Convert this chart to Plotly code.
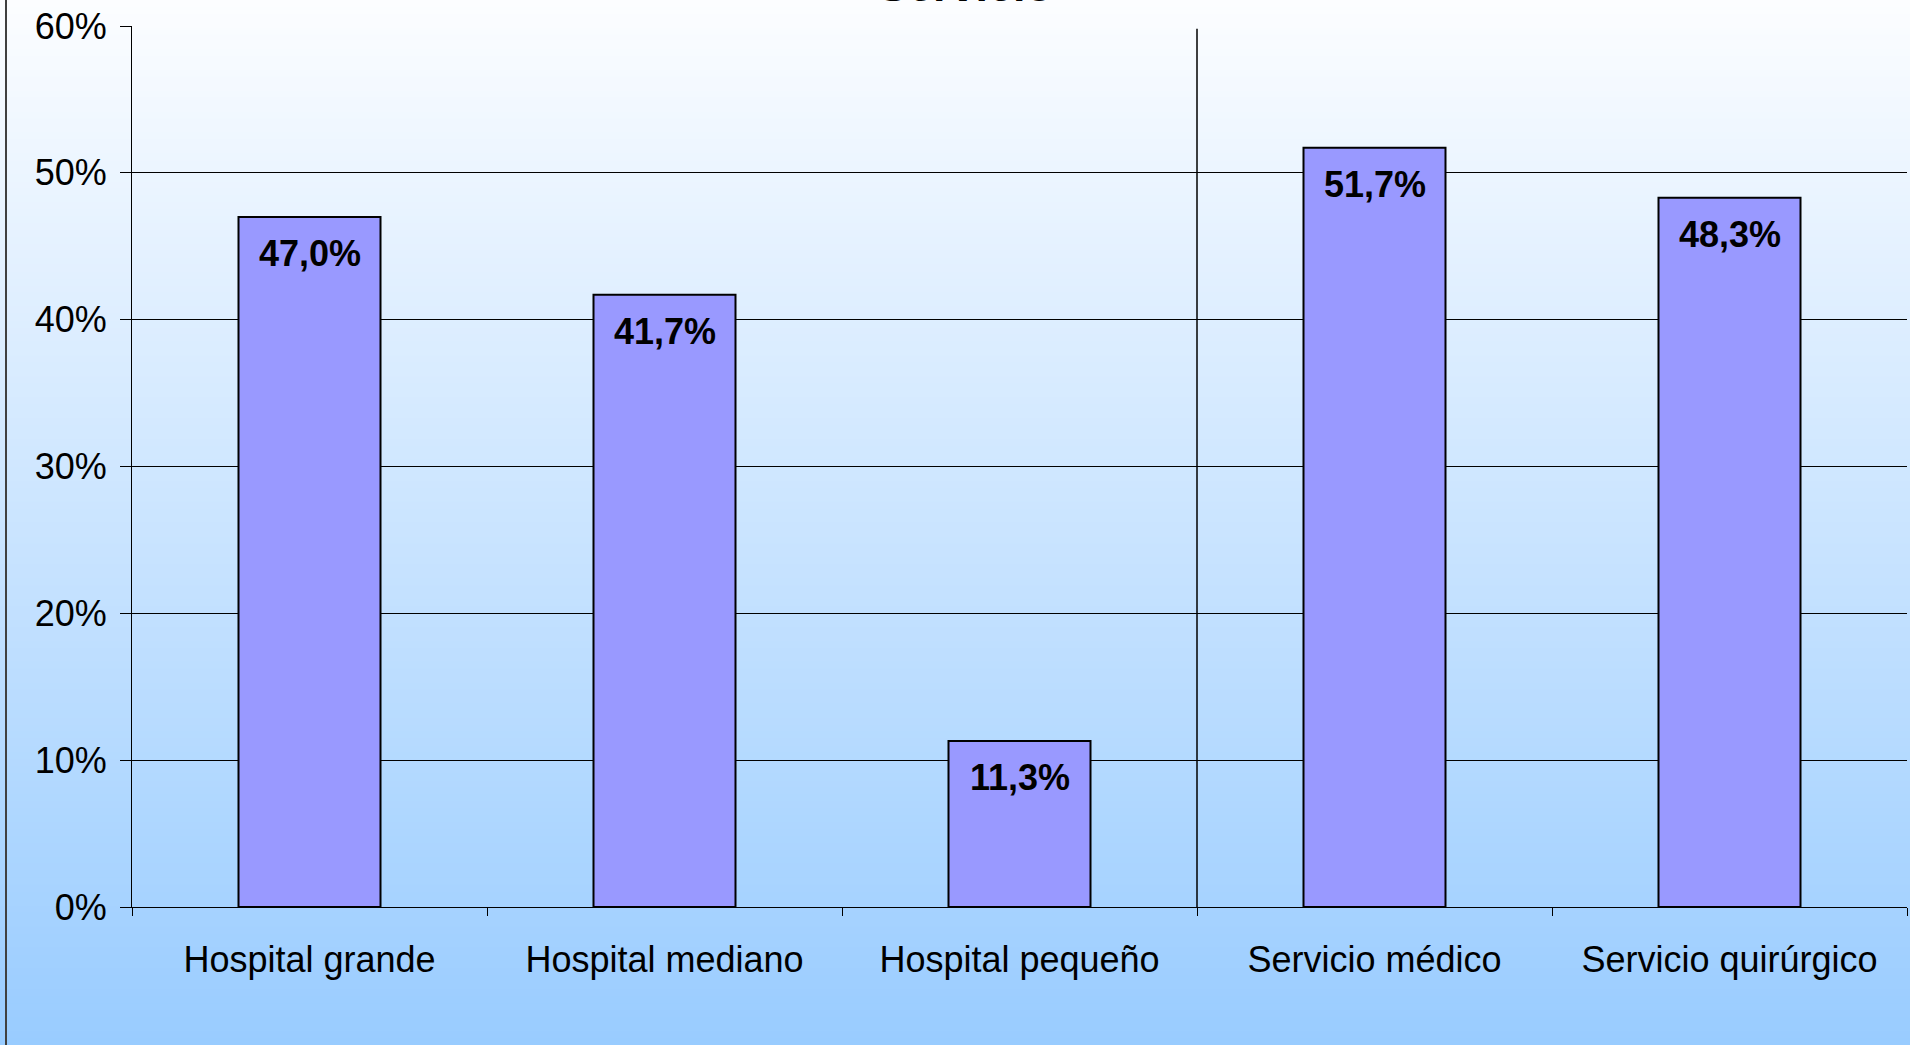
import plotly.graph_objects as go

# Data
categories = ["Hospital grande", "Hospital mediano", "Hospital pequeño",
              "Servicio médico", "Servicio quirúrgico"]
values = [47.0, 41.7, 11.3, 51.7, 48.3]
y_ticks = [0, 10, 20, 30, 40, 50, 60]
y_tick_labels = [f"{v}%" for v in y_ticks]
title_text = "Servicio"

W, H = 1910, 1045
ML, MR, MT, MB = 132, 3, 26, 138
PW, PH = W - ML - MR, H - MT - MB

FONT = "Liberation Sans, Arial, sans-serif"
BAR_COLOR = "#9999ff"


def label(v):
    return f"{v:.1f}".replace(".", ",") + "%"


fig = go.Figure()
fig.add_trace(go.Bar(
    x=categories, y=values,
    marker=dict(color=BAR_COLOR, line=dict(color="black", width=2)),
    hoverinfo="skip",
))

# value labels just inside the top of each bar
annotations = []
for c, v in zip(categories, values):
    annotations.append(dict(
        x=c, y=v, xref="x", yref="y", text=f"<b>{label(v)}</b>",
        showarrow=False, yanchor="top", yshift=-14,
        font=dict(family=FONT, size=36, color="black"),
    ))

# title, partly above the top edge of the page
annotations.append(dict(
    x=(965 - ML) / PW, y=1, xref="paper", yref="paper",
    text=f"<b>{title_text}</b>", showarrow=False,
    xanchor="center", yanchor="bottom", yshift=13,
    font=dict(family=FONT, size=45, color="black"),
))

# background gradient: white at top to light blue at bottom
shapes = []
N = 150
top_rgb = (252, 253, 255)
bot_rgb = (153, 204, 255)
for i in range(N):
    t = (i + 0.5) / N
    col = tuple(round(a + (b - a) * t) for a, b in zip(top_rgb, bot_rgb))
    py0 = i * H / N
    py1 = (i + 1) * H / N + 1
    shapes.append(dict(
        type="rect", xref="paper", yref="paper", layer="below",
        x0=-ML / PW - 0.01, x1=1 + MR / PW + 0.01,
        y0=1 + (MT - py1) / PH, y1=1 + (MT - py0) / PH,
        fillcolor=f"rgb{col}", line=dict(width=0),
    ))

# frame line on the left edge of the chart area
shapes.append(dict(
    type="line", xref="paper", yref="paper", layer="above",
    x0=(6 - ML) / PW, x1=(6 - ML) / PW,
    y0=-MB / PH - 0.01, y1=1 + MT / PH + 0.01,
    line=dict(color="#404040", width=2),
))

# divider between hospital size and service groups
shapes.append(dict(
    type="line", xref="x", yref="paper", x0=2.5, x1=2.5, y0=0, y1=0.997,
    line=dict(color="black", width=1.5),
))

fig.update_layout(
    width=W, height=H,
    margin=dict(l=ML, r=MR, t=MT, b=MB, pad=0),
    paper_bgcolor="rgb(153,204,255)",
    plot_bgcolor="rgba(0,0,0,0)",
    bargap=0.6,
    showlegend=False,
    font=dict(family=FONT, size=36, color="black"),
    annotations=annotations,
    shapes=shapes,
)

fig.update_xaxes(
    range=[-0.5, 4.5], showline=True, linecolor="black", linewidth=1,
    ticks="outside", tickson="boundaries", ticklen=8, tickcolor="black",
    tickfont=dict(family=FONT, size=36, color="black"),
    ticklabelstandoff=21, showgrid=False,
)
fig.update_yaxes(
    range=[0, 60], tickvals=y_ticks, ticktext=y_tick_labels,
    showline=True, linecolor="black", linewidth=1,
    ticks="outside", ticklen=11, tickcolor="black",
    showgrid=True, gridcolor="black", gridwidth=1, zeroline=False,
    tickfont=dict(family=FONT, size=36, color="black"),
    ticklabelstandoff=6,
)

fig.write_html("out.html")
